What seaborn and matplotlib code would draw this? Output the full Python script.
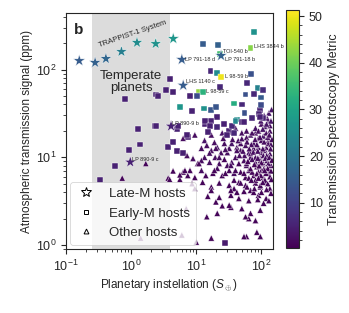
import numpy as np
import pandas as pd
import seaborn as sns
import matplotlib.pyplot as plt
from matplotlib.colors import Normalize
from matplotlib.lines import Line2D

# (instellation S_earth, signal ppm, TSM)
late_m = [
    (0.16, 126, 15), (0.28, 120, 16), (0.41, 133, 17), (0.71, 160, 22),
    (1.23, 203, 25), (2.38, 197, 26), (4.43, 225, 27),
    (6.0, 130, 15), (24, 144, 16), (6.3, 66, 15),
    (4.1, 22.6, 5), (0.97, 8.8, 5),
]

early_m = [
    (78, 270, 26), (68, 178, 42), (12.5, 197, 15), (21.8, 192, 16), (23, 152, 36),
    (16.5, 97, 6), (21, 92, 25), (24, 83, 50), (70, 90, 13), (60, 71, 6),
    (87, 62, 23), (107, 59, 7), (76, 53, 6), (57, 52, 13), (100, 48, 15),
    (11, 56, 43), (12.5, 56, 33), (8, 50, 5), (10.2, 50, 12), (23, 64, 6),
    (38, 41, 32), (5.6, 37, 27), (13, 36, 26), (17, 35, 14), (20, 37, 14),
    (50, 40, 6), (8.6, 34, 5), (21, 28.5, 5), (96, 35, 5), (93, 31, 5),
    (3.9, 79, 5), (2.4, 52, 5), (2.6, 50, 5), (3.4, 58, 5), (4.4, 55, 5),
    (0.81, 46, 5), (1.27, 21, 5), (2.3, 23, 5), (1.37, 14, 5), (0.93, 12, 5),
    (3.7, 13, 5), (0.57, 7.9, 5), (0.33, 5.5, 5), (4.4, 15, 5), (5.1, 11.7, 5),
    (7.4, 17, 5), (5.1, 21, 5), (100, 39, 12), (55, 32, 13), (42, 27, 25),
    (72, 28, 6), (50, 25, 5), (107, 28, 5), (17, 26, 5), (13.4, 24, 5),
    (13.4, 26, 5), (16, 23, 5), (21, 22, 6), (27, 24, 5), (32, 20, 5),
    (35, 23, 6), (40, 26, 24), (54, 25, 5), (96, 28.5, 5), (30, 18, 5),
    (38, 19, 6), (15, 19.5, 5), (7.2, 18, 5), (6.3, 11.3, 5), (28, 1.05, 4),
    (5.3, 23, 5), (2.4, 23, 5),
]

other = [
    (6.3, 16.5, 2), (9.5, 18, 2), (13.4, 15.6, 3), (17, 18, 2), (19, 14.8, 2),
    (25, 19, 3), (32, 19.5, 2), (40, 21.5, 3), (50, 19, 2), (59, 20, 2),
    (68, 18, 3), (81, 19, 2), (90, 16.5, 2), (107, 17.5, 3), (128, 15.6, 2),
    (113, 22.5, 3), (135, 20, 2),
    (12, 12.7, 2), (14.5, 13.7, 2), (17, 12, 2), (21, 13, 3), (24, 11.3, 2),
    (32, 12.7, 2), (35, 14.4, 3), (42, 13, 2), (48, 12, 2), (57, 13.7, 2),
    (64, 11.3, 3), (76, 12.7, 2), (90, 13, 2), (100, 11.3, 2), (118, 13, 2),
    (135, 11, 2),
    (7.2, 10.5, 2), (8.9, 9.7, 2), (10.5, 8.5, 1), (13.4, 10, 2), (16, 8.8, 2),
    (19.5, 10, 2), (22.5, 8.5, 2), (27, 9.5, 1), (30, 8.1, 2), (35, 8.8, 2),
    (40, 10, 2), (45, 8.5, 1), (54, 9.2, 2), (59, 8.1, 2), (68, 10, 2),
    (81, 8.8, 2), (96, 9.7, 1), (107, 8.5, 2), (122, 9.2, 2), (140, 8.1, 1),
    (6.3, 6.8, 1), (8, 7.1, 1), (9.5, 5.9, 1), (12, 7.1, 2), (14, 6.2, 1),
    (18, 6.6, 1), (21, 7.5, 2), (25, 6.2, 1), (32, 7.1, 1), (38, 6.6, 2),
    (48, 6.8, 1), (57, 5.9, 1), (64, 7.1, 2), (76, 6.2, 1), (90, 6.8, 1),
    (107, 5.9, 1), (128, 6.6, 1),
    (12.5, 5.2, 1), (17, 4.6, 1), (22.5, 5.1, 1), (32, 4.8, 1), (38, 4.4, 1),
    (45, 5.2, 1), (57, 4.8, 1), (68, 4.2, 1), (81, 5.1, 1), (96, 4.6, 1),
    (113, 5.2, 1), (135, 4.4, 1),
    (22.5, 3.5, 1), (34, 3.7, 1), (45, 3.4, 1), (64, 3.2, 1), (90, 3.7, 1),
    (118, 3.4, 1),
    (25, 2.8, 1), (34, 2.7, 1), (50, 2.6, 1), (68, 2.3, 1), (96, 2.5, 1),
    (64, 2.0, 1), (85, 1.4, 1), (96, 1.25, 1), (59, 1.25, 1), (17, 1.2, 1),
    (10, 1.08, 1),
    (4.4, 7, 1), (5.6, 5.6, 1), (6.7, 7.1, 1), (7.4, 6.2, 1), (8.6, 5, 1),
    (17, 4.2, 1), (15, 3.6, 1), (20, 3.1, 1), (21, 2.3, 1), (32, 2.85, 1),
    (14.5, 2.1, 1), (57, 2.1, 1), (81, 1.9, 1), (54, 1.25, 1), (0.73, 5.8, 1),
    (1.68, 8.5, 1), (3.7, 5.8, 1), (3.9, 5.6, 1), (5.6, 6.3, 1),
    (76, 14.4, 2), (85, 14, 2), (100, 15.6, 2), (113, 12, 2), (128, 14.4, 2),
    (68, 11, 2), (81, 10, 2), (96, 9.2, 2), (107, 10.5, 2), (128, 8.5, 2),
    (85, 7.8, 1), (100, 7.1, 1), (118, 6.6, 1), (59, 8.5, 2), (72, 6.8, 1),
    (54, 6.6, 1), (64, 5.8, 1), (81, 5.5, 1), (96, 4.8, 1), (113, 5.5, 1),
    (48, 5.1, 1), (38, 5.5, 1), (34, 4.2, 1), (42, 4.0, 1), (54, 4.1, 1),
    (76, 4.0, 1), (27, 14.4, 2), (20, 12.7, 2), (16, 11.2, 2), (12, 9.2, 2),
    (11, 8.5, 1), (22.5, 10, 2), (30, 11.3, 2), (42, 12, 2), (48, 14.4, 2),
    (59, 16.8, 2), (72, 19, 2), (81, 21.5, 3), (34, 8.1, 2), (19, 7.1, 1),
    (28, 6.6, 1), (40, 7.1, 1),
    (130, 32, 3), (128, 26, 3), (135, 23, 2), (122, 28, 3), (100, 24, 2),
    (118, 19, 2),
    (1.4, 1.2, 1), (9.5, 4.4, 1), (7, 2.6, 1), (6, 1.3, 1),
    # dense cluster, hot side
    (60, 15, 2), (70, 14, 2), (80, 16, 2), (95, 17, 2), (110, 15, 2),
    (125, 17, 2), (140, 14, 2), (65, 12.5, 2), (75, 11.5, 2), (88, 11.8, 2),
    (105, 12.5, 2), (120, 10.5, 2), (138, 12.5, 2), (55, 10.5, 2), (72, 9.5, 2),
    (88, 9.8, 2), (100, 8.7, 1), (115, 9.8, 2), (132, 10, 2), (145, 9.3, 1),
    (62, 9, 1), (78, 8.3, 1), (92, 8, 1), (110, 7.5, 1), (125, 7.5, 1),
    (140, 7, 1), (68, 7.4, 1), (85, 6.5, 1), (98, 6.2, 1), (112, 7.1, 1),
    (135, 6, 1), (70, 5.5, 1), (90, 5.8, 1), (105, 5.2, 1), (125, 5, 1),
    (142, 5.6, 1), (60, 4.6, 1), (78, 4.4, 1), (100, 4.0, 1), (120, 4.3, 1),
    (140, 3.9, 1), (88, 3.3, 1), (108, 3.0, 1), (130, 3.2, 1), (52, 11.8, 2),
    (46, 10.5, 2), (44, 15.5, 2), (36, 16, 2), (28, 12.3, 2), (26, 16.5, 2),
    (50, 16.3, 2), (90, 20, 2), (105, 21, 3), (120, 24, 3), (140, 26, 3),
    (132, 18, 2), (145, 16, 2), (98, 26, 3), (110, 30, 3), (143, 35, 3),
]

# planet labels: (name, S, ppm, x offset pt, y offset pt)
labels = [
    ("LP 791-18 d", 6.0, 130, 2.5, 0),
    ("TOI-540 b", 23, 152, 2.5, 1.5),
    ("LP 791-18 b", 24, 144, 2.5, -2.5),
    ("LHS 3844 b", 68, 178, 2.5, 1),
    ("L 98-59 b", 24, 83, 2.5, 0),
    ("LHS 1140 c", 6.3, 66, 2, 2.5),
    ("L 98-59 c", 11, 56, 5, 0),
    ("LP 890-9 b", 4.1, 22.6, 1, 2),
    ("LP 890-9 c", 0.97, 8.8, 1, 2),
]

cols = ["S", "ppm", "tsm"]
df_late = pd.DataFrame(late_m, columns=cols)
df_early = pd.DataFrame(early_m, columns=cols)
df_other = pd.DataFrame(other, columns=cols)

sns.set_style("ticks")
plt.rcParams['font.family'] = ['Liberation Sans', 'DejaVu Sans']
plt.rcParams['mathtext.fontset'] = 'custom'
plt.rcParams['mathtext.rm'] = 'Liberation Sans'
plt.rcParams['mathtext.it'] = 'Liberation Sans:italic'

norm = Normalize(vmin=0.3, vmax=51.3)
cmap = 'viridis'

fig = plt.figure(figsize=(3.49, 3.13), dpi=100)
ax = fig.add_axes([0.189, 0.2045, 0.593, 0.7535])
cax = fig.add_axes([0.819, 0.208, 0.038, 0.76])

ax.axvspan(0.25, 4.0, color='#dcdcdc', zorder=0, lw=0)

sns.scatterplot(data=df_other, x='S', y='ppm', hue='tsm', palette=cmap, hue_norm=norm,
                marker='^', s=20, edgecolor='white', linewidth=0.3, legend=False, ax=ax, zorder=2)
sns.scatterplot(data=df_early, x='S', y='ppm', hue='tsm', palette=cmap, hue_norm=norm,
                marker='s', s=18, edgecolor='white', linewidth=0.3, legend=False, ax=ax, zorder=3)
sns.scatterplot(data=df_late, x='S', y='ppm', hue='tsm', palette=cmap, hue_norm=norm,
                marker='*', s=80, edgecolor='white', linewidth=0.3, legend=False, ax=ax, zorder=4)

ax.set_xscale('log')
ax.set_yscale('log')
ax.set_xlim(0.1, 150)
ax.set_ylim(0.9, 440)

for name, s, p, dx, dy in labels:
    ax.annotate(name, (s, p), xytext=(dx, dy), textcoords='offset points',
                fontsize=4, va='center', ha='left', zorder=5)

ax.text(1.04, 257, "TRAPPIST-1 System", rotation=19, fontsize=5.5,
        ha='center', va='center')
ax.text(1.0, 73, "Temperate\nplanets", fontsize=9.5, ha='center', va='center',
        linespacing=1.0)
ax.text(0.04, 0.93, "b", transform=ax.transAxes, fontsize=11, fontweight='bold',
        ha='left', va='center')

ax.set_xlabel(r"Planetary instellation ($S_\oplus$)", fontsize=8.5, labelpad=2)
ax.set_ylabel("Atmospheric transmission signal (ppm)", fontsize=8.5, labelpad=2)
ax.tick_params(axis='both', which='major', labelsize=9, length=3.5, width=0.8)
ax.tick_params(axis='both', which='minor', length=2, width=0.6)
for sp in ax.spines.values():
    sp.set_linewidth(0.8)
    sp.set_visible(True)

handles = [
    Line2D([], [], ls='none', marker='*', ms=7.5, mfc='white', mec='black', mew=0.7),
    Line2D([], [], ls='none', marker='s', ms=3.5, mfc='white', mec='black', mew=0.7),
    Line2D([], [], ls='none', marker='^', ms=3.5, mfc='white', mec='black', mew=0.7),
]
leg = ax.legend(handles, ["Late-M hosts", "Early-M hosts", "Other hosts"], loc='lower left',
                fontsize=9.5, frameon=True, framealpha=0.8, labelspacing=0.55,
                handletextpad=0.9, borderaxespad=0.3, borderpad=0.45, handlelength=1.6)
leg.get_frame().set_linewidth(0.6)

sm = plt.cm.ScalarMappable(norm=norm, cmap=cmap)
cb = fig.colorbar(sm, cax=cax)
cb.set_ticks([10, 20, 30, 40, 50])
cb.ax.minorticks_on()
cb.ax.tick_params(which='major', labelsize=9, length=3.5, width=0.8)
cb.ax.tick_params(which='minor', length=2, width=0.6)
cb.set_label("Transmission Spectroscopy Metric", fontsize=9)
cb.outline.set_linewidth(0.8)

fig.savefig("out.png", dpi=100)
